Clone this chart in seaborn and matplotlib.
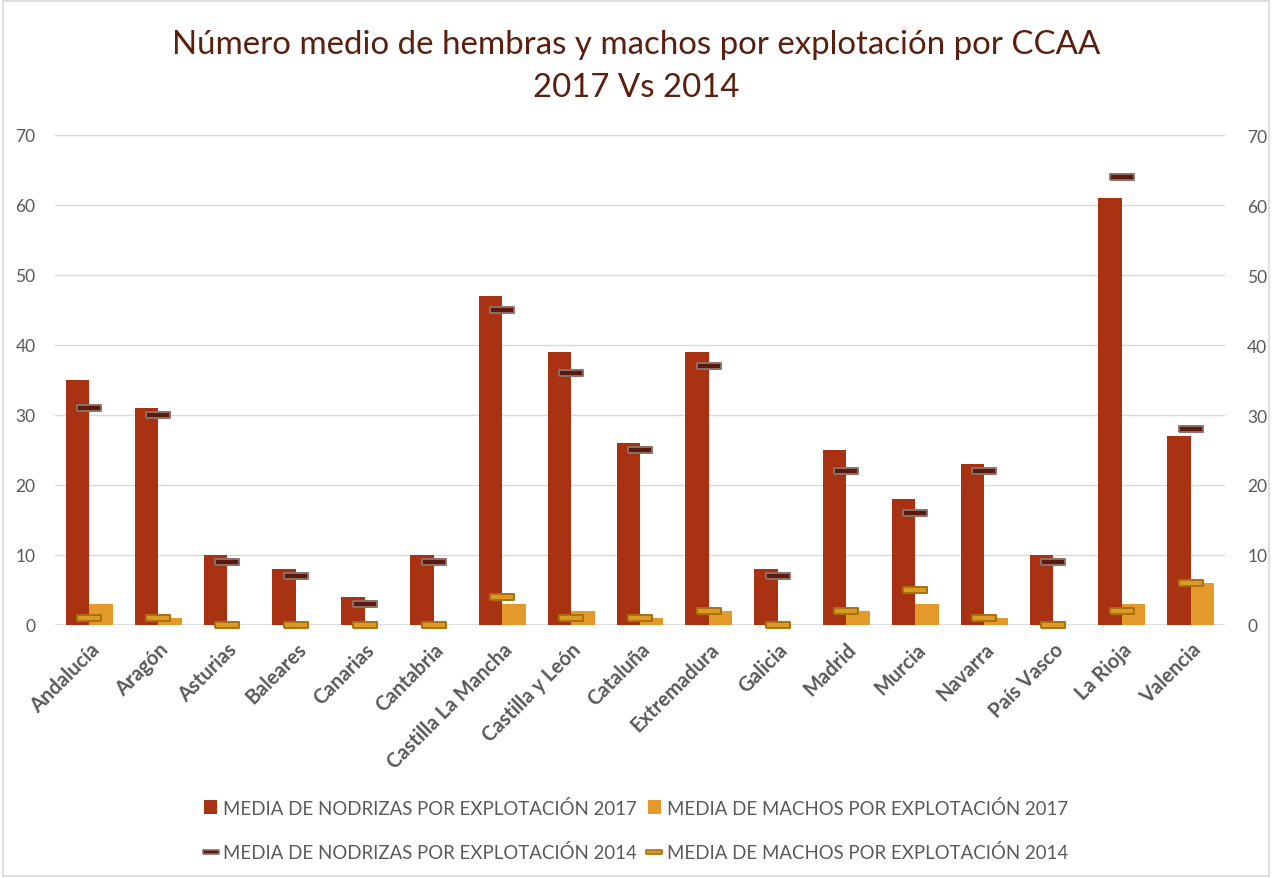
import matplotlib
matplotlib.use("Agg")
import matplotlib.pyplot as plt
import seaborn as sns
import pandas as pd
from matplotlib.patches import Patch, Rectangle
from matplotlib.lines import Line2D

categories = ["Andalucía", "Aragón", "Asturias", "Baleares", "Canarias", "Cantabria",
              "Castilla La Mancha", "Castilla y León", "Cataluña", "Extremadura", "Galicia",
              "Madrid", "Murcia", "Navarra", "País Vasco", "La Rioja", "Valencia"]
nodrizas_2017 = [35, 31, 10, 8, 4, 10, 47, 39, 26, 39, 8, 25, 18, 23, 10, 61, 27]
machos_2017 = [3, 1, 0, 0, 0, 0, 3, 2, 1, 2, 0, 2, 3, 1, 0, 3, 6]
nodrizas_2014 = [31, 30, 9, 7, 3, 9, 45, 36, 25, 37, 7, 22, 16, 22, 9, 64, 28]
machos_2014 = [1, 1, 0, 0, 0, 0, 4, 1, 1, 2, 0, 2, 5, 1, 0, 2, 6]

lab_n17 = "MEDIA DE NODRIZAS POR EXPLOTACIÓN 2017"
lab_m17 = "MEDIA DE MACHOS POR EXPLOTACIÓN 2017"
lab_n14 = "MEDIA DE NODRIZAS POR EXPLOTACIÓN 2014"
lab_m14 = "MEDIA DE MACHOS POR EXPLOTACIÓN 2014"

RED = "#A83211"
ORANGE = "#E39A2A"
DARK = "#5A1A0E"
DARK_EDGE = "#8C7068"
OR_FILL = "#DC9A22"
OR_EDGE = "#A8700F"
GRID = "#D9D9D9"
TXT = "#595959"

sns.set_theme(style="white")
plt.rcParams["font.family"] = ["Lato", "DejaVu Sans"]

df = pd.DataFrame({
    "cat": categories * 2,
    "val": nodrizas_2017 + machos_2017,
    "serie": [lab_n17] * len(categories) + [lab_m17] * len(categories),
})

fig = plt.figure(figsize=(12.72, 8.79), dpi=100)
ax = fig.add_axes([55 / 1272, 253 / 879, 1170 / 1272, 490 / 879])

sns.barplot(data=df, x="cat", y="val", hue="serie", order=categories,
            hue_order=[lab_n17, lab_m17], palette=[RED, ORANGE], width=0.68,
            saturation=1, edgecolor="none", linewidth=0, legend=False, ax=ax, zorder=2)

rect_marker = [(-1, -0.25), (1, -0.25), (1, 0.25), (-1, 0.25), (-1, -0.25)]
xs = list(range(len(categories)))
ax.plot(xs, nodrizas_2014, linestyle="none", marker=rect_marker, markersize=17,
        markerfacecolor=DARK, markeredgecolor=DARK_EDGE, markeredgewidth=1.4,
        clip_on=False, zorder=4)
ax.plot(xs, machos_2014, linestyle="none", marker=rect_marker, markersize=17,
        markerfacecolor=OR_FILL, markeredgecolor=OR_EDGE, markeredgewidth=1.4,
        clip_on=False, zorder=4)

ax.set_xlim(-0.5, len(categories) - 0.5)
ax.set_ylim(0, 70)
ax.set_yticks(range(0, 71, 10))
ax.yaxis.grid(True, color=GRID, linewidth=1)
ax.set_axisbelow(True)
for s in ax.spines.values():
    s.set_visible(False)
ax.axhline(0, color=GRID, linewidth=1.2, zorder=1)
ax.set_xlabel("")
ax.set_ylabel("")
ax.tick_params(axis="y", length=0, pad=14, labelsize=12.5, labelcolor=TXT)
ax.tick_params(axis="x", length=0, pad=10)
ax.set_xticks(xs)
ax.set_xticklabels(categories, rotation=45, ha="right", rotation_mode="anchor",
                   fontsize=14.5, fontweight="bold", color=TXT)

ax2 = ax.twinx()
ax2.set_ylim(0, 70)
ax2.set_yticks(range(0, 71, 10))
for s in ax2.spines.values():
    s.set_visible(False)
ax2.tick_params(axis="y", length=0, pad=16, labelsize=12.5, labelcolor=TXT)
ax2.grid(False)

fig.text(0.5, 1 - 45 / 879, "Número medio de hembras y machos por explotación por CCAA",
         ha="center", va="center", fontsize=23.8, color="#5B1F0E")
fig.text(0.5, 1 - 88 / 879, "2017 Vs 2014", ha="center", va="center",
         fontsize=23.8, color="#5B1F0E")

handles = [
    Patch(facecolor=RED, edgecolor="none"),
    Line2D([0], [0], linestyle="none", marker=rect_marker, markersize=11,
           markerfacecolor=DARK, markeredgecolor=DARK_EDGE, markeredgewidth=1.2),
    Patch(facecolor=ORANGE, edgecolor="none"),
    Line2D([0], [0], linestyle="none", marker=rect_marker, markersize=11,
           markerfacecolor=OR_FILL, markeredgecolor=OR_EDGE, markeredgewidth=1.2),
]
labels = [lab_n17, lab_n14, lab_m17, lab_m14]
leg = fig.legend(handles, labels, ncol=2, loc="center", bbox_to_anchor=(0.5, 1 - 831 / 879),
                 frameon=False, fontsize=13.4, labelcolor=TXT, handlelength=0.7,
                 handleheight=0.7, handletextpad=0.3, columnspacing=0.6, labelspacing=1.45)

fig.add_artist(Rectangle((3 / 1272, 2 / 879), 1 - 6 / 1272, 1 - 4 / 879,
                         transform=fig.transFigure, fill=False, edgecolor=GRID,
                         linewidth=1.2))

fig.savefig("out.png", dpi=100, facecolor="white")
